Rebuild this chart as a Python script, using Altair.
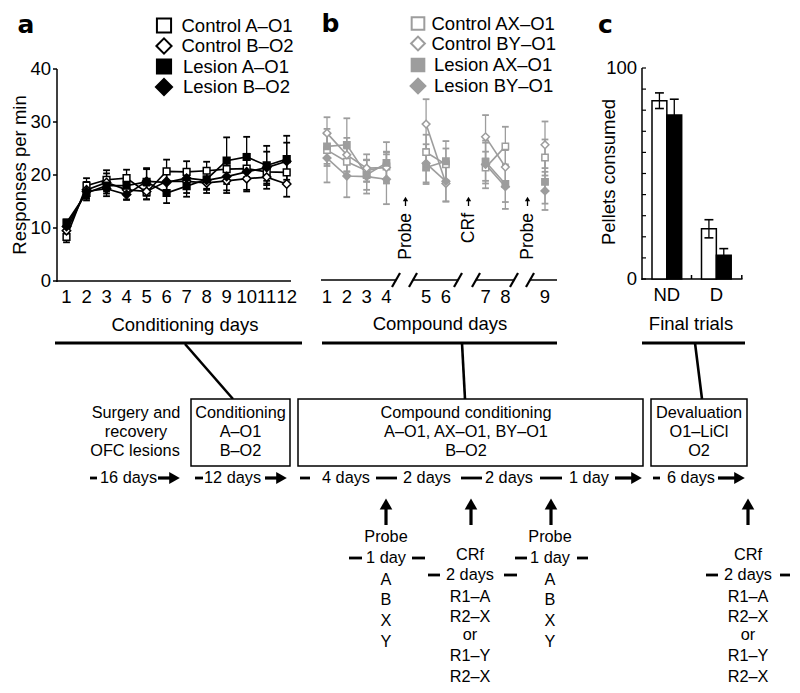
import altair as alt
import pandas as pd

FONT = "Liberation Sans"
BOLD_FONT = "DejaVu Sans"
GRAY = "#9d9d9d"
M = 8  # page margin: reference pixel -> chart pixel

# ---------------- Panel a : conditioning days ----------------
days_a = list(range(1, 13))
ctrl_A_O1 = [8.3, 18.0, 19.1, 19.4, 16.7, 20.7, 20.6, 20.8, 21.1, 21.2, 20.6, 20.5]
ctrl_A_O1_err = [1.0, 1.4, 1.8, 1.6, 1.3, 2.2, 2.0, 1.7, 2.0, 2.0, 1.7, 2.0]
ctrl_B_O2 = [9.5, 17.2, 18.6, 17.2, 16.9, 18.8, 18.8, 18.5, 18.9, 19.3, 19.6, 18.3]
ctrl_B_O2_err = [1.0, 1.5, 1.7, 1.8, 1.5, 1.8, 2.2, 1.9, 2.3, 2.4, 2.2, 2.4]
les_A_O1 = [11.0, 16.6, 18.0, 18.0, 18.7, 16.6, 17.9, 19.2, 22.7, 23.4, 21.8, 23.0]
les_A_O1_err = [0.6, 1.4, 1.5, 1.5, 2.6, 1.9, 2.0, 2.0, 4.4, 3.8, 3.7, 4.4]
les_B_O2 = [10.3, 16.9, 17.4, 16.3, 18.8, 18.6, 19.4, 19.0, 19.7, 20.6, 21.4, 22.6]
les_B_O2_err = [0.8, 1.4, 1.4, 1.0, 2.3, 1.8, 1.6, 1.6, 2.6, 3.4, 3.0, 3.5]
series_a = ["Control A–O1", "Control B–O2", "Lesion A–O1", "Lesion B–O2"]
y_ticks_a = [0, 10, 20, 30, 40]

# ---------------- Panel b : compound days ----------------
days_b = list(range(1, 10))
breaks_after = [4, 6, 8]  # Probe, CRf, Probe interruptions
ctrl_AX = [24.7, 22.5, 20.8, 21.6, 24.3, 22.0, 21.4, 25.4, 23.3]
ctrl_AX_err = [3.0, 2.5, 2.0, 2.8, 3.3, 3.0, 3.0, 3.7, 3.4]
ctrl_BY = [27.9, 23.8, 21.3, 21.4, 29.6, 18.4, 27.2, 21.5, 25.7]
ctrl_BY_err = [3.0, 3.2, 2.6, 2.9, 4.7, 3.4, 4.1, 3.2, 4.4]
les_AX = [25.4, 25.7, 20.0, 22.3, 21.4, 22.6, 22.5, 18.3, 18.7]
les_AX_err = [3.3, 5.0, 2.8, 3.9, 3.1, 3.8, 3.6, 3.4, 4.1]
les_BY = [23.2, 19.8, 19.7, 19.2, 22.2, 18.8, 22.0, 17.8, 17.0]
les_BY_err = [4.6, 4.0, 3.2, 4.7, 3.6, 3.8, 4.5, 4.2, 3.6]
series_b = ["Control AX–O1", "Control BY–O1", "Lesion AX–O1", "Lesion BY–O1"]
break_labels = ["Probe", "CRf", "Probe"]

# ---------------- Panel c : final trials ----------------
trials = ["ND", "D"]
ctrl_c = [84.5, 23.8]
ctrl_c_err = [3.7, 4.3]
les_c = [77.7, 11.2]
les_c_err = [7.5, 3.2]
y_ticks_c = list(range(0, 101, 10))


# ---------------- helpers ----------------
def long_table(x_vals, blocks):
    rows = []
    for name, vals, errs in blocks:
        for x, v, e in zip(x_vals, vals, errs):
            rows.append({"series": name, "x": x, "v": v, "lo": v - e, "hi": v + e})
    return pd.DataFrame(rows)


def style(df, names, color, sq, dm):
    shapes = {names[0]: "square", names[1]: "diamond", names[2]: "square", names[3]: "diamond"}
    fills = {names[0]: "white", names[1]: "white", names[2]: color, names[3]: color}
    df["shape"] = df["series"].map(shapes)
    df["fill"] = df["series"].map(fills)
    df["stroke"] = color
    df["size"] = df["shape"].map({"square": sq, "diamond": dm})
    return df


def data_layers(df, XS, YS, color, cap_w, lw):
    df = df.copy()
    df["cl"] = df["x"] - cap_w
    df["cr"] = df["x"] + cap_w
    base = alt.Chart(df)
    X = lambda f: alt.X(f"{f}:Q", scale=XS, axis=None)
    Y = lambda f: alt.Y(f"{f}:Q", scale=YS, axis=None)
    err = base.mark_rule(color=color, strokeWidth=1.3).encode(x=X("x"), y=Y("lo"), y2="hi:Q")
    cap1 = base.mark_rule(color=color, strokeWidth=1.8).encode(x=X("cl"), x2="cr:Q", y=Y("hi"))
    cap2 = base.mark_rule(color=color, strokeWidth=1.8).encode(x=X("cl"), x2="cr:Q", y=Y("lo"))
    line = base.mark_line(color=color, strokeWidth=lw).encode(x=X("x"), y=Y("v"), detail="grp:N")
    pts = base.mark_point(filled=True, strokeWidth=1.5, opacity=1).encode(
        x=X("x"), y=Y("v"),
        shape=alt.Shape("shape:N", scale=None),
        fill=alt.Fill("fill:N", scale=None),
        stroke=alt.Stroke("stroke:N", scale=None),
        size=alt.Size("size:Q", scale=None),
    )
    return [err, cap1, cap2, line, pts]


def PX(f):
    return alt.X(f"{f}:Q", scale=None, axis=None)


def PY(f):
    return alt.Y(f"{f}:Q", scale=None, axis=None)


def T(rows, size=16, align="center", angle=0, weight="normal", font=FONT, baseline="middle"):
    df = pd.DataFrame(rows, columns=["x", "y", "t"])
    df["x"] = df["x"] - M
    df["y"] = df["y"] - M
    mk = dict(fontSize=size, align=align, baseline=baseline, font=font, fontWeight=weight, color="black")
    if angle:
        mk["angle"] = angle
    return alt.Chart(df).mark_text(**mk).encode(x=PX("x"), y=PY("y"), text="t:N")


def R(rows, width=3.0, color="black"):
    df = pd.DataFrame(rows, columns=["x1", "y1", "x2", "y2"]) - M
    return alt.Chart(df).mark_rule(strokeWidth=width, color=color, strokeCap="butt").encode(
        x=PX("x1"), y=PY("y1"), x2="x2:Q", y2="y2:Q")


def TRI(rows, shape, size, color="black"):
    df = pd.DataFrame(rows, columns=["x", "y"]) - M
    return alt.Chart(df).mark_point(shape=shape, size=size, filled=True, color=color, opacity=1).encode(
        x=PX("x"), y=PY("y"))


def BOX(rows):
    df = pd.DataFrame(rows, columns=["x1", "y1", "x2", "y2"]) - M
    return alt.Chart(df).mark_rect(fill="white", stroke="black", strokeWidth=1.5).encode(
        x=PX("x1"), y=PY("y1"), x2="x2:Q", y2="y2:Q")


layers = []

# ================= Panel a =================
XA = alt.Scale(domain=[1, 12], range=[66.5 - M, 286.7 - M], nice=False, zero=False)
YA = alt.Scale(domain=[0, 40], range=[281 - M, 69 - M], nice=False)
df_a = long_table(days_a, [
    (series_a[0], ctrl_A_O1, ctrl_A_O1_err),
    (series_a[1], ctrl_B_O2, ctrl_B_O2_err),
    (series_a[2], les_A_O1, les_A_O1_err),
    (series_a[3], les_B_O2, les_B_O2_err),
])
df_a["grp"] = df_a["series"]
df_a = style(df_a, series_a, "black", 45, 70)

# axes of a
layers.append(R([(57, 69, 57, 282), (56.5, 281, 291, 281)], width=1.5))
layers.append(alt.Chart(pd.DataFrame({"v": y_ticks_a})).mark_rule(color="black", strokeWidth=1.5).encode(
    x=alt.value(53 - M), x2=alt.value(57 - M), y=alt.Y("v:Q", scale=YA, axis=None)))
layers.append(alt.Chart(pd.DataFrame({"v": y_ticks_a, "t": [str(v) for v in y_ticks_a]})).mark_text(
    font=FONT, fontSize=18.5, align="right", baseline="middle").encode(
    x=alt.value(51 - M), y=alt.Y("v:Q", scale=YA, axis=None), text="t:N"))
layers.append(alt.Chart(pd.DataFrame({"d": days_a, "t": [str(d) for d in days_a]})).mark_text(
    font=FONT, fontSize=18.5, align="center", baseline="middle").encode(
    x=alt.X("d:Q", scale=XA, axis=None), y=alt.value(297 - M), text="t:N"))
layers += data_layers(df_a, XA, YA, "black", 0.17, 1.7)

# ================= Panel b =================
XB = alt.Scale(domain=[1, 12], range=[327 - M, 545 - M], nice=False, zero=False)
slot_of = {d: d + sum(1 for b in breaks_after if b < d) for d in days_b}
seg_of = {d: sum(1 for b in breaks_after if b < d) for d in days_b}
df_b = long_table(days_b, [
    (series_b[0], ctrl_AX, ctrl_AX_err),
    (series_b[1], ctrl_BY, ctrl_BY_err),
    (series_b[2], les_AX, les_AX_err),
    (series_b[3], les_BY, les_BY_err),
])
df_b["day"] = df_b["x"]
df_b["x"] = df_b["day"].map(slot_of)
df_b["grp"] = df_b["series"] + "_" + df_b["day"].map(seg_of).astype(str)
df_b = style(df_b, series_b, GRAY, 40, 60)

# broken axis of b
layers.append(R([(321, 280, 396, 280), (413, 280, 458, 280), (476, 280, 514, 280), (530, 280, 557, 280)], width=1.5))
layers.append(R([(c - 4, 287, c + 4, 273) for c in [396, 413, 458, 476, 514, 530]], width=2.2))
layers.append(alt.Chart(pd.DataFrame({"s": [slot_of[d] for d in days_b], "t": [str(d) for d in days_b]})).mark_text(
    font=FONT, fontSize=18.5, align="center", baseline="middle").encode(
    x=alt.X("s:Q", scale=XB, axis=None), y=alt.value(297 - M), text="t:N"))
layers += data_layers(df_b, XB, YA, GRAY, 0.17, 1.6)

# break annotations (rotated)
brk_x = [405.5, 468.5, 527.5]
layers.append(T([(x, 213, t) for x, t in zip(brk_x, break_labels)], size=17.5, align="right", angle=270))
layers.append(R([(x, 199, x, 206) for x in brk_x], width=1.3))
layers.append(TRI([(x, 199) for x in brk_x], "triangle-up", 28))

# ================= Panel c =================
XC = alt.Scale(domain=[-0.3, 1.3], range=[652 - M, 731.2 - M], nice=False, zero=False)
YC = alt.Scale(domain=[0, 100], range=[279 - M, 68 - M], nice=False)
rows_c = []
for gi, g in enumerate(trials):
    for si, (vals, errs, fill) in enumerate([(ctrl_c, ctrl_c_err, "white"), (les_c, les_c_err, "black")]):
        c = gi + (-0.15 if si == 0 else 0.15)
        rows_c.append({"g": g, "c": c, "l": c - 0.15, "r": c + 0.15, "v": vals[gi],
                       "lo": vals[gi] - errs[gi], "hi": vals[gi] + errs[gi],
                       "cl": c - 0.09, "cr": c + 0.09, "fill": fill})
df_c = pd.DataFrame(rows_c)
bc = alt.Chart(df_c)
layers.append(R([(642, 68, 642, 280), (641.5, 279, 742.5, 279), (691.5, 279, 691.5, 275), (741.8, 279, 741.8, 275)], width=1.5))
layers.append(alt.Chart(pd.DataFrame({"v": y_ticks_c})).mark_rule(color="black", strokeWidth=1.2).encode(
    x=alt.value(642 - M), x2=alt.value(646 - M), y=alt.Y("v:Q", scale=YC, axis=None)))
layers.append(alt.Chart(pd.DataFrame({"v": [0, 100], "t": ["0", "100"]})).mark_text(
    font=FONT, fontSize=18.5, align="right", baseline="middle").encode(
    x=alt.value(637 - M), y=alt.Y("v:Q", scale=YC, axis=None), text="t:N"))
layers.append(bc.mark_rect(stroke="black", strokeWidth=1.5).encode(
    x=alt.X("l:Q", scale=XC, axis=None), x2="r:Q",
    y=alt.Y("v:Q", scale=YC, axis=None), y2=alt.datum(0),
    fill=alt.Fill("fill:N", scale=None)))
layers.append(bc.mark_rule(color="black", strokeWidth=1.3).encode(
    x=alt.X("c:Q", scale=XC, axis=None), y=alt.Y("lo:Q", scale=YC, axis=None), y2="hi:Q"))
for f in ["lo", "hi"]:
    layers.append(bc.mark_rule(color="black", strokeWidth=1.6).encode(
        x=alt.X("cl:Q", scale=XC, axis=None), x2="cr:Q", y=alt.Y(f"{f}:Q", scale=YC, axis=None)))
layers.append(alt.Chart(pd.DataFrame({"g": [0, 1], "t": trials})).mark_text(
    font=FONT, fontSize=18.5, align="center", baseline="middle").encode(
    x=alt.X("g:Q", scale=XC, axis=None), y=alt.value(295 - M), text="t:N"))

# ================= Legends =================
leg = pd.DataFrame([
    (164, 25.5, "square", "white", "black", 200),
    (164, 46, "diamond", "white", "black", 230),
    (164, 66.5, "square", "black", "black", 200),
    (164, 87, "diamond", "black", "black", 260),
    (418, 23.5, "square", "white", GRAY, 160),
    (418, 43.5, "diamond", "white", GRAY, 190),
    (418, 65, "square", GRAY, GRAY, 160),
    (418, 86, "diamond", GRAY, GRAY, 220),
], columns=["x", "y", "shape", "fill", "stroke", "size"])
leg["x"] -= M
leg["y"] -= M
layers.append(alt.Chart(leg).mark_point(filled=True, strokeWidth=2, opacity=1).encode(
    x=PX("x"), y=PY("y"),
    shape=alt.Shape("shape:N", scale=None), fill=alt.Fill("fill:N", scale=None),
    stroke=alt.Stroke("stroke:N", scale=None), size=alt.Size("size:Q", scale=None)))
layers.append(T([
    (181.5, 25.5, series_a[0]), (181.5, 46, series_a[1]), (183, 66.5, series_a[2]), (183, 87, series_a[3]),
    (431.5, 23.5, series_b[0]), (431.5, 43.5, series_b[1]), (434, 65, series_b[2]), (434, 86, series_b[3]),
], size=18.5, align="left"))

# ================= Panel titles / labels =================
layers.append(T([(26, 33, "a"), (330.5, 32, "b"), (605.5, 33, "c")], size=25, weight="bold",
                font=BOLD_FONT, baseline="alphabetic"))
layers.append(T([(20, 175, "Responses per min"), (609, 172, "Pellets consumed")], size=18.5, angle=270))
layers.append(T([(185, 325, "Conditioning days"), (440, 323.5, "Compound days"), (691, 324, "Final trials")],
                size=18.5))

# ================= Timeline diagram =================
layers.append(R([(55, 343, 302, 343), (322, 343, 557, 343), (642, 343, 745, 343)], width=3.2))
layers.append(R([(185, 344, 233, 399), (462, 343, 465, 399), (695, 343, 702, 399)], width=2.6))
layers.append(BOX([(191, 399, 290, 466), (298, 399, 643, 466), (651, 399, 747, 466)]))
layers.append(T([
    (136, 413, "Surgery and"), (136, 432, "recovery"), (135, 451, "OFC lesions"),
    (240.5, 413, "Conditioning"), (240.5, 432, "A–O1"), (240.5, 451, "B–O2"),
    (466, 413, "Compound conditioning"), (466, 432, "A–O1, AX–O1, BY–O1"), (466, 451, "B–O2"),
    (699, 413, "Devaluation"), (699, 432, "O1–LiCl"), (699, 451, "O2"),
], size=16.3))

TL = 478
layers.append(T([(100, TL, "16 days"), (204, TL, "12 days"), (322, TL, "4 days"), (403, TL, "2 days"),
                 (485, TL, "2 days"), (569, TL, "1 day"), (667, TL, "6 days")], size=16.3, align="left"))
dashes = [(90, 97), (195, 203), (300, 310), (376, 397), (461, 482), (540, 562), (653, 660),
          (349, 362), (412, 425), (428, 440), (504, 517), (515, 527), (577, 588), (706, 718), (780, 790)]
dash_y = [TL] * 7 + [558, 558, 575, 575, 558, 558, 575, 575]
layers.append(R([(a, y, b, y) for (a, b), y in zip(dashes, dash_y)], width=2.8))
h_arrows = [(158, 180), (265, 287), (615, 642), (718, 745)]
layers.append(R([(a, TL, b - 9, TL) for a, b in h_arrows], width=3.2))
layers.append(TRI([(b - 5.5, TL) for a, b in h_arrows], "triangle-right", 150))

v_arrows = [386, 471, 551, 748]
layers.append(R([(x, 507, x, 525) for x in v_arrows], width=3.2))
layers.append(TRI([(x, 504) for x in v_arrows], "triangle-up", 160))

cols = []
for x in [386, 550]:
    cols += [(x, 537, "Probe"), (x, 558, "1 day"), (x, 580, "A"), (x, 600, "B"), (x, 621, "X"), (x, 642, "Y")]
for x in [470, 748]:
    cols += [(x, 555, "CRf"), (x, 575, "2 days"), (x, 597, "R1–A"), (x, 617, "R2–X"), (x, 635, "or"),
             (x, 656, "R1–Y"), (x, 677, "R2–X")]
layers.append(T(cols, size=16.3))

chart = alt.layer(*layers).resolve_scale(x="independent", y="independent").properties(
    width=784, height=677, autosize=alt.AutoSizeParams(type="none"), padding=0,
    background="white",
).configure_view(stroke=None)

chart.save("out.html", embed_options={"renderer": "svg", "actions": False})
